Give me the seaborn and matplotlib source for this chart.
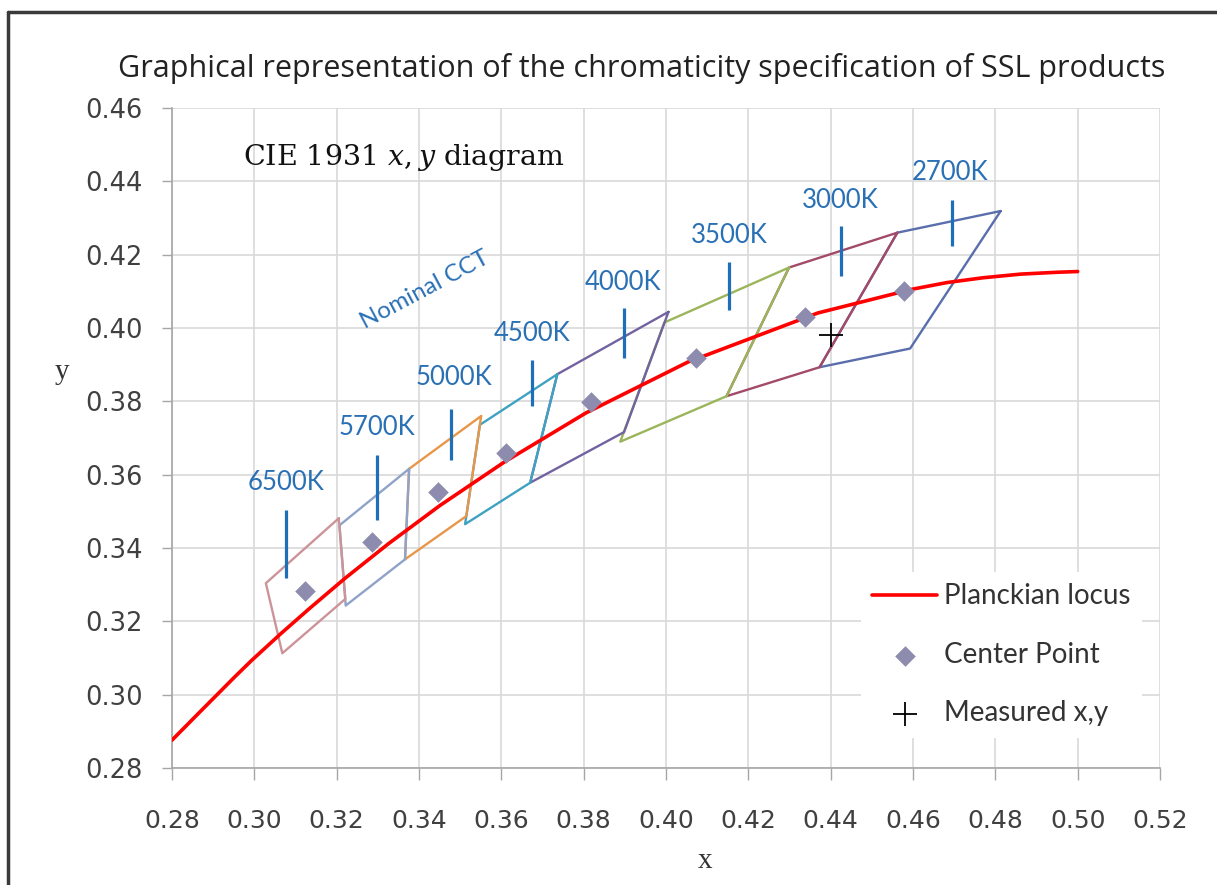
import numpy as np
import pandas as pd
import matplotlib
matplotlib.use("Agg")
import matplotlib.pyplot as plt
from matplotlib.lines import Line2D
import seaborn as sns

# ---------------- data ----------------
cct_labels = ["2700K", "3000K", "3500K", "4000K", "4500K", "5000K", "5700K", "6500K"]

# ANSI quadrangle corners (4 corners each, in drawing order)
quad_x = [
    [0.4813, 0.4562, 0.4373, 0.4593],
    [0.4562, 0.4299, 0.4147, 0.4373],
    [0.4299, 0.3996, 0.3889, 0.4147],
    [0.4006, 0.3736, 0.3670, 0.3898],
    [0.3736, 0.3548, 0.3512, 0.3670],
    [0.3551, 0.3376, 0.3366, 0.3515],
    [0.3376, 0.3207, 0.3222, 0.3366],
    [0.3205, 0.3028, 0.3068, 0.3221],
]
quad_y = [
    [0.4319, 0.4260, 0.3893, 0.3944],
    [0.4260, 0.4165, 0.3814, 0.3893],
    [0.4165, 0.4015, 0.3690, 0.3814],
    [0.4044, 0.3874, 0.3578, 0.3716],
    [0.3874, 0.3736, 0.3465, 0.3578],
    [0.3760, 0.3616, 0.3369, 0.3487],
    [0.3616, 0.3462, 0.3243, 0.3369],
    [0.3481, 0.3304, 0.3113, 0.3261],
]

center_x = [0.4578, 0.4338, 0.4073, 0.3818, 0.3611, 0.3447, 0.3287, 0.3123]
center_y = [0.4101, 0.4030, 0.3917, 0.3797, 0.3658, 0.3553, 0.3417, 0.3282]

planck_x = [0.2800, 0.2867, 0.2952, 0.2994, 0.3064, 0.3135, 0.3221, 0.3325,
            0.3451, 0.3608, 0.3805, 0.4053, 0.4369, 0.4599, 0.4683, 0.4770,
            0.4862, 0.4950, 0.5000]
planck_y = [0.2876, 0.2952, 0.3048, 0.3094, 0.3166, 0.3236, 0.3318, 0.3411,
            0.3516, 0.3635, 0.3768, 0.3907, 0.4041, 0.4106, 0.4124, 0.4137,
            0.4147, 0.4152, 0.4154]

measured_x = [0.4400]
measured_y = [0.3980]

# nominal CCT markers (vertical bars) and label anchors
bar_x = [0.4695, 0.4425, 0.4153, 0.3898, 0.3675, 0.3478, 0.3298, 0.3077]
bar_y0 = [0.4224, 0.4142, 0.4049, 0.3918, 0.3787, 0.3640, 0.3476, 0.3318]
bar_y1 = [0.4349, 0.4278, 0.4180, 0.4055, 0.3913, 0.3780, 0.3654, 0.3504]
label_x = [0.4690, 0.4423, 0.4153, 0.3896, 0.3675, 0.3485, 0.3298, 0.3077]
label_y = [0.4425, 0.4349, 0.4251, 0.4123, 0.3984, 0.3864, 0.3730, 0.3580]

x_ticks = [0.28, 0.30, 0.32, 0.34, 0.36, 0.38, 0.40, 0.42, 0.44, 0.46, 0.48, 0.50, 0.52]
y_ticks = [0.28, 0.30, 0.32, 0.34, 0.36, 0.38, 0.40, 0.42, 0.44, 0.46]

quad_colors = ["#5A6EAD", "#A24A68", "#9BB55A", "#7262A0",
               "#40A2C2", "#E8964A", "#8FA2C8", "#CC9398"]

# ---------------- style ----------------
sns.set_theme(style="whitegrid")
plt.rcParams["font.family"] = ["DejaVu Sans"]
plt.rcParams["mathtext.fontset"] = "custom"
plt.rcParams["mathtext.rm"] = "DejaVu Serif"
plt.rcParams["mathtext.it"] = "DejaVu Serif:italic"

fig = plt.figure(figsize=(12.17, 8.85), dpi=100)
fig.patch.set_facecolor("white")
ax = fig.add_axes([172 / 1217, 1 - 768 / 885, 988 / 1217, 660 / 885])
ax.set_facecolor("white")

# quadrangles (closed polylines)
rows = []
for lab, xs, ys in zip(cct_labels, quad_x, quad_y):
    for i in range(5):
        rows.append({"cct": lab, "x": xs[i % 4], "y": ys[i % 4], "order": i})
quad_df = pd.DataFrame(rows)
sns.lineplot(data=quad_df, x="x", y="y", hue="cct", hue_order=cct_labels,
             palette=dict(zip(cct_labels, quad_colors)), sort=False,
             estimator=None, legend=False, lw=1.7, ax=ax, zorder=2)

# Planckian locus
sns.lineplot(x=planck_x, y=planck_y, sort=False, estimator=None, color="#FF0000",
             lw=2.6, label="Planckian locus", ax=ax, zorder=3)

# center points
sns.scatterplot(x=center_x, y=center_y, marker="D", s=110, color="#8E8CAE",
                linewidth=0, label="Center Point", ax=ax, zorder=4)

# measured
sns.scatterplot(x=measured_x, y=measured_y, marker="+", s=280, color="black",
                linewidth=1.3, label="Measured x,y", ax=ax, zorder=5)

# nominal CCT bars and labels
blue = "#2A70B5"
ax.vlines(bar_x, bar_y0, bar_y1, color="#1F6EB8", lw=2.3, zorder=6)
for lx, ly, lab in zip(label_x, label_y, cct_labels):
    ax.text(lx, ly, lab, ha="center", va="center", color=blue,
            fontsize=18.5, family=["Lato", "DejaVu Sans"])
ax.text(0.3415, 0.4104, "Nominal CCT", rotation=28, ha="center", va="center",
        rotation_mode="anchor", color=blue, fontsize=17.5, family=["Lato", "DejaVu Sans"])

ax.text(0.2972, 0.4464, r"CIE 1931 $\mathit{x, y}$ diagram", ha="left", va="center",
        fontsize=20.5, family=["DejaVu Serif"], color="#111111")

# axes
ax.set_xlim(0.28, 0.52)
ax.set_ylim(0.28, 0.46)
ax.set_xticks(x_ticks)
ax.set_yticks(y_ticks)
ax.set_xticklabels([f"{v:.2f}" for v in x_ticks], fontsize=18, color="#404040")
ax.set_yticklabels([f"{v:.2f}" for v in y_ticks], fontsize=18.5, color="#404040")
ax.tick_params(axis="x", direction="out", length=8.5, width=1, color="#A6A6A6", pad=21, bottom=True)
ax.tick_params(axis="y", direction="out", length=7, width=1, color="#A6A6A6", pad=14, left=True)
ax.grid(True, color="#D9D9D9", lw=1.2)
for s in ["top", "right"]:
    ax.spines[s].set_visible(False)
for s in ["left", "bottom"]:
    ax.spines[s].set_color("#A6A6A6")
    ax.spines[s].set_linewidth(1.2)

ax.set_xlabel("x", fontsize=21, family=["Liberation Serif", "DejaVu Serif"], color="#333333")
ax.set_ylabel("y", fontsize=21, family=["Liberation Serif", "DejaVu Serif"], color="#333333",
              rotation=0, va="center", ha="center")
ax.xaxis.set_label_coords((705 - 172) / 988, (768 - 848) / 660)
ax.yaxis.set_label_coords((62 - 172) / 988, (768 - 372) / 660)

# legend
leg = ax.legend(loc="center left", bbox_to_anchor=((861 - 172) / 988, (768 - 655) / 660),
                frameon=True, facecolor="white", edgecolor="none", framealpha=1,
                borderaxespad=0, borderpad=0.4, handlelength=2.35, handletextpad=0.25,
                labelspacing=1.17, prop={"family": ["Lato", "DejaVu Sans"], "size": 20})
for t in leg.get_texts():
    t.set_color("#333333")

# title
fig.text(642 / 1217, 1 - 69 / 885,
         "Graphical representation of the chromaticity specification of SSL products",
         ha="center", va="center", fontsize=22, family=["Open Sans", "DejaVu Sans"], color="#222222")

# figure border (left and top)
fig.add_artist(Line2D([8 / 1217, 8 / 1217], [0, 1 - 12 / 885], transform=fig.transFigure,
                      color="#3A3A3A", lw=2.5))
fig.add_artist(Line2D([8 / 1217, 1], [1 - 12 / 885, 1 - 12 / 885], transform=fig.transFigure,
                      color="#3A3A3A", lw=2.5))

fig.savefig("out.png", dpi=100, facecolor="white")
